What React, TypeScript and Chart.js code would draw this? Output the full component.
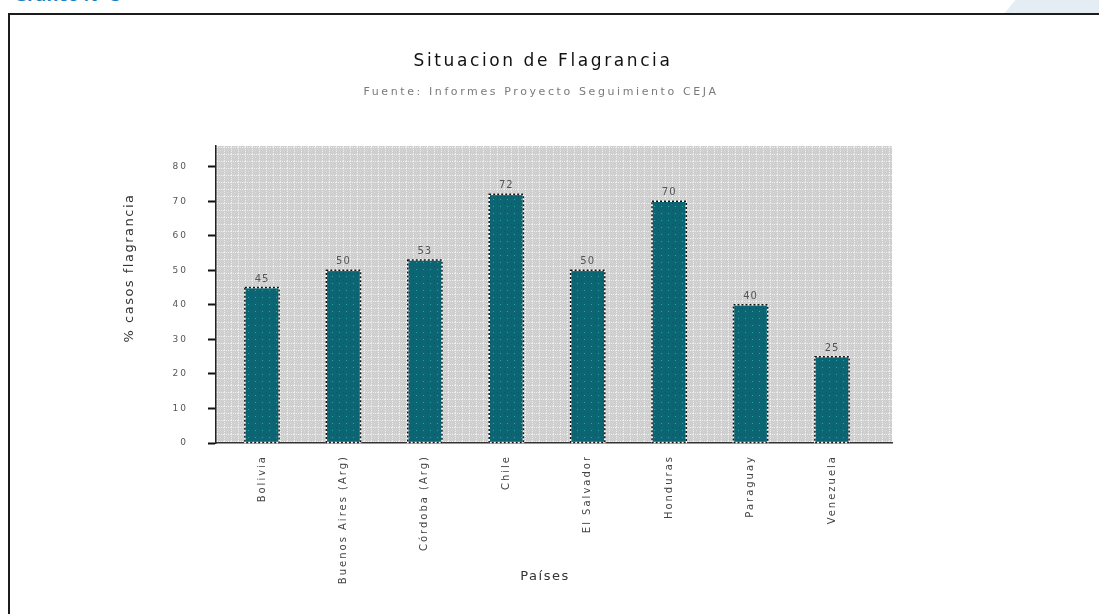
import React, { useEffect, useRef } from "react";
import { Chart, registerables } from "chart.js";

Chart.register(...registerables);

const categories = [
  "Bolivia",
  "Buenos Aires (Arg)",
  "Córdoba (Arg)",
  "Chile",
  "El Salvador",
  "Honduras",
  "Paraguay",
  "Venezuela",
];
const flagranciaValues = [45, 50, 53, 72, 50, 70, 40, 25];
const yTickValues = [0, 10, 20, 30, 40, 50, 60, 70, 80];

const chartTitle = "Situacion de Flagrancia";
const chartSubtitle = "Fuente: Informes Proyecto Seguimiento CEJA";
const yTitle = "% casos flagrancia";
const xTitle = "Países";
const heading = "Gráfico N° 3";

const FONT = "'DejaVu Sans', 'Liberation Sans', sans-serif";

function makeTile(size: number, draw: (c: CanvasRenderingContext2D) => void) {
  const cv = document.createElement("canvas");
  cv.width = size;
  cv.height = size;
  const c = cv.getContext("2d")!;
  draw(c);
  return cv;
}

export default function App() {
  const ref = useRef<HTMLCanvasElement | null>(null);

  useEffect(() => {
    const canvas = ref.current!;
    const ctx = canvas.getContext("2d")!;

    const bgTile = makeTile(7, (c) => {
      c.fillStyle = "#cfcfcf";
      c.fillRect(0, 0, 7, 7);
      for (let i = 0; i < 7; i += 2) {
        c.fillStyle = "#efefef";
        c.fillRect(i, 0, 1, 1);
        c.fillRect(0, i, 1, 1);
      }
      c.fillStyle = "#dddddd";
      c.fillRect(3, 3, 1, 1);
    });
    const bgPattern = ctx.createPattern(bgTile, "repeat")!;

    const barTile = makeTile(7, (c) => {
      c.fillStyle = "#0c6572";
      c.fillRect(0, 0, 7, 7);
      c.fillStyle = "#2aa6a2";
      c.fillRect(3, 3, 1, 1);
      c.fillStyle = "#0a5466";
      c.fillRect(0, 0, 1, 1);
    });
    const barPattern = ctx.createPattern(barTile, "repeat")!;

    const bgPlugin = {
      id: "plotBg",
      beforeDraw(chart: any) {
        const a = chart.chartArea;
        const c = chart.ctx;
        c.save();
        c.fillStyle = bgPattern;
        c.fillRect(a.left, a.top, a.right - a.left, a.bottom - a.top);
        c.restore();
        (c as any).letterSpacing = "2px";
      },
      beforeDatasetsDraw(chart: any) {
        (chart.ctx as any).letterSpacing = "0px";
      },
    };

    const barDecor = {
      id: "barDecor",
      afterDatasetsDraw(chart: any) {
        const c = chart.ctx;
        const meta = chart.getDatasetMeta(0);
        c.save();
        meta.data.forEach((el: any, i: number) => {
          const left = el.x - el.width / 2;
          const top = el.y;
          const h = el.base - el.y;
          c.lineWidth = 1.5;
          c.setLineDash([]);
          c.strokeStyle = "#ffffff";
          c.strokeRect(left, top, el.width, h);
          c.setLineDash([2, 2]);
          c.strokeStyle = "#111111";
          c.strokeRect(left, top, el.width, h);
          c.setLineDash([]);
          c.fillStyle = "#555555";
          c.font = `10px ${FONT}`;
          (c as any).letterSpacing = "1px";
          c.textAlign = "center";
          c.textBaseline = "alphabetic";
          c.fillText(String(flagranciaValues[i]), el.x, el.y - 6);
        });
        c.restore();
      },
    };

    const textPlugin = {
      id: "texts",
      afterDraw(chart: any) {
        const c = chart.ctx;
        c.save();
        c.textAlign = "center";
        c.textBaseline = "middle";
        c.fillStyle = "#111111";
        c.font = `17px ${FONT}`;
        (c as any).letterSpacing = "2.6px";
        c.fillText(chartTitle, 543, 62);
        c.fillStyle = "#7a7a7a";
        c.font = `11px ${FONT}`;
        (c as any).letterSpacing = "2.6px";
        c.fillText(chartSubtitle, 541, 92);
        c.fillStyle = "#333333";
        c.font = `13px ${FONT}`;
        (c as any).letterSpacing = "1.5px";
        c.fillText(xTitle, 545, 577);
        c.translate(130, 268);
        c.rotate(-Math.PI / 2);
        c.fillText(yTitle, 0, 0);
        c.restore();
      },
    };

    const chart = new Chart(canvas, {
      type: "bar",
      data: {
        datasets: [
          {
            data: flagranciaValues.map((v, i) => ({ x: i, y: v })),
            backgroundColor: barPattern as any,
            borderWidth: 0,
            barPercentage: 0.42,
            categoryPercentage: 1,
          },
        ],
      },
      options: {
        responsive: false,
        animation: false,
        devicePixelRatio: 1,
        layout: { padding: { top: 146, right: 207, left: 0, bottom: 0 } },
        plugins: {
          legend: { display: false },
          title: { display: false },
          tooltip: { enabled: false },
        },
        scales: {
          x: {
            type: "linear",
            offset: false,
            min: -0.565,
            max: 7.737,
            afterBuildTicks: (s: any) => {
              s.ticks = categories.map((_, i) => ({ value: i }));
            },
            afterFit: (s: any) => {
              s.height = 171;
            },
            ticks: {
              autoSkip: false,
              maxRotation: 90,
              minRotation: 90,
              padding: 12,
              color: "#444444",
              font: { family: FONT, size: 10 },
              callback: (v: any) => categories[v as number] ?? "",
            },
            grid: { display: true, offset: false, drawOnChartArea: false, drawTicks: false },
            border: { color: "#333333", dash: [3, 2], width: 1.5 },
          },
          y: {
            min: 0,
            max: 86,
            afterBuildTicks: (s: any) => {
              s.ticks = yTickValues.map((v) => ({ value: v }));
            },
            afterFit: (s: any) => {
              s.width = 216;
            },
            ticks: {
              padding: 20,
              color: "#555555",
              font: { family: FONT, size: 9 },
              callback: (v: any) => String(v),
            },
            grid: {
              display: true,
              drawOnChartArea: false,
              drawTicks: true,
              tickLength: 8,
              tickWidth: 2,
              tickColor: "#111111",
            },
            border: { color: "#222222", dash: [3, 2], width: 1.5 },
          },
        },
      } as any,
      plugins: [bgPlugin, barDecor, textPlugin],
    });

    return () => chart.destroy();
  }, []);

  return (
    <div
      style={{
        position: "fixed",
        left: 0,
        top: 0,
        width: 1099,
        height: 614,
        background: "#ffffff",
        overflow: "hidden",
      }}
    >
      <div
        style={{
          position: "absolute",
          left: 1004,
          top: 0,
          width: 95,
          height: 14,
          background: "#e4edf4",
          clipPath: "polygon(0 100%, 12% 0, 100% 0, 100% 100%)",
        }}
      />
      <div
        style={{
          position: "absolute",
          left: 14,
          top: -18,
          fontFamily: "'Open Sans', sans-serif",
          fontWeight: 700,
          fontSize: 18,
          color: "#1b7fc0",
          whiteSpace: "nowrap",
        }}
      >
        {heading}
      </div>
      <div
        style={{
          position: "absolute",
          left: 8,
          top: 13,
          width: 1200,
          height: 700,
          border: "2px solid #1c1c1c",
        }}
      />
      <canvas
        ref={ref}
        width={1099}
        height={614}
        style={{ position: "absolute", left: 0, top: 0, width: 1099, height: 614 }}
      />
    </div>
  );
}
